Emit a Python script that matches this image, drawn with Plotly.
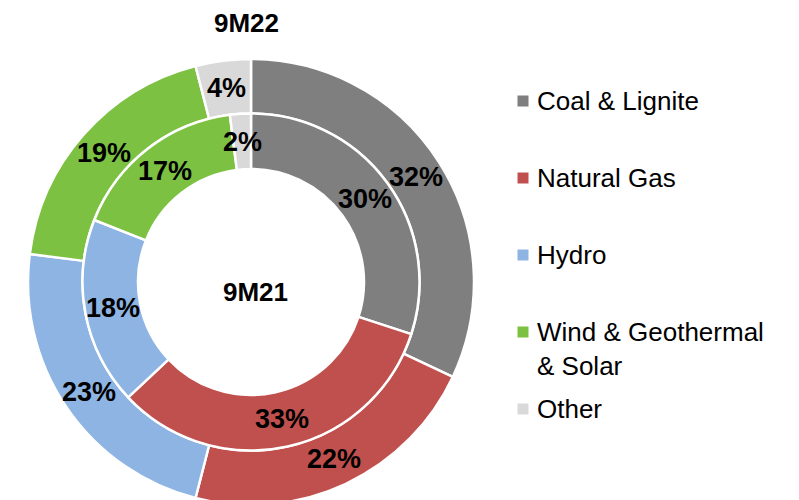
"""Donut duplo: mix de geração 9M22 (anel externo) vs 9M21 (anel interno)."""
import math

import plotly.graph_objects as go

categorias = ["Coal & Lignite", "Natural Gas", "Hydro",
              "Wind & Geothermal<br>& Solar", "Other"]
mix_9m22 = [32, 22, 23, 19, 4]   # anel externo
mix_9m21 = [30, 33, 18, 17, 2]   # anel interno
cores = ["#7F7F7F", "#C0504D", "#8DB4E2", "#7CC142", "#D9D9D9"]

W, H = 799, 500
MARGEM_BODY = 8            # margem padrão do <body> na página gerada
CX, CY = 251, 282          # centro dos anéis (px da página)
R_EXT, R_MEIO, R_INT = 223, 168.5, 113
FONTE = "Arial, Liberation Sans, sans-serif"


def _px(x, y):
    """px da página -> coordenadas paper da figura."""
    return (x - MARGEM_BODY) / W, 1 - (y - MARGEM_BODY) / H


def _dom(r):
    x0, y1 = _px(CX - r, CY - r)
    x1, y0 = _px(CX + r, CY + r)
    return dict(x=[x0, x1], y=[max(0.0, y0), min(1.0, y1)])


def _texto(px, py, texto, size, **kw):
    x, y = _px(px, py)
    d = dict(x=x, y=y, xref="paper", yref="paper", text=texto, showarrow=False,
             xanchor="center", yanchor="middle",
             font=dict(family=FONTE, size=size, color="#000000"))
    d.update(kw)
    return d


def _rotulos(valores, r_lab):
    # rótulo no meio do anel, no ângulo médio da fatia (horário a partir do topo)
    total = float(sum(valores))
    acc = 0.0
    out = []
    for v in valores:
        ang = (acc + v / 2) / total * 2 * math.pi
        acc += v
        out.append(_texto(CX + r_lab * math.sin(ang), CY - r_lab * math.cos(ang),
                          f"<b>{v}%</b>", 27))
    return out


fig = go.Figure()
for valores, r, r_furo in [(mix_9m22, R_EXT, R_MEIO), (mix_9m21, R_MEIO, R_INT)]:
    fig.add_trace(go.Pie(
        labels=categorias, values=valores, hole=r_furo / r,
        domain=_dom(r), sort=False, direction="clockwise", rotation=0,
        marker=dict(colors=cores, line=dict(color="white", width=2.5)),
        textinfo="none", showlegend=False, hoverinfo="label+percent",
    ))

anots = _rotulos(mix_9m22, (R_EXT + R_MEIO) / 2) + _rotulos(mix_9m21, (R_MEIO + R_INT) / 2)
anots.append(_texto(247, 23, "<b>9M22</b>", 26))
anots.append(_texto(255, 292, "<b>9M21</b>", 26))

# legenda manual: quadrado + texto, espaçamento fixo entre itens
shapes = []
LEG_X, LEG_Y0, LEG_PASSO, LADO, LINHA = 523, 101, 77, 11, 33
for i, (nome, cor) in enumerate(zip(categorias, cores)):
    yc = LEG_Y0 + i * LEG_PASSO
    x0, y1 = _px(LEG_X - LADO / 2, yc - LADO / 2)
    x1, y0 = _px(LEG_X + LADO / 2, yc + LADO / 2)
    shapes.append(dict(type="rect", xref="paper", yref="paper",
                       x0=x0, x1=x1, y0=y0, y1=y1,
                       fillcolor=cor, line=dict(width=0)))
    n_linhas = nome.count("<br>") + 1
    anots.append(_texto(535, yc + (n_linhas - 1) * LINHA / 2, nome, 26,
                        xanchor="left", align="left"))

fig.update_layout(
    width=W, height=H,
    margin=dict(l=0, r=0, t=0, b=0),
    paper_bgcolor="white", plot_bgcolor="white",
    annotations=anots, shapes=shapes,
)
fig.write_html("out.html")
